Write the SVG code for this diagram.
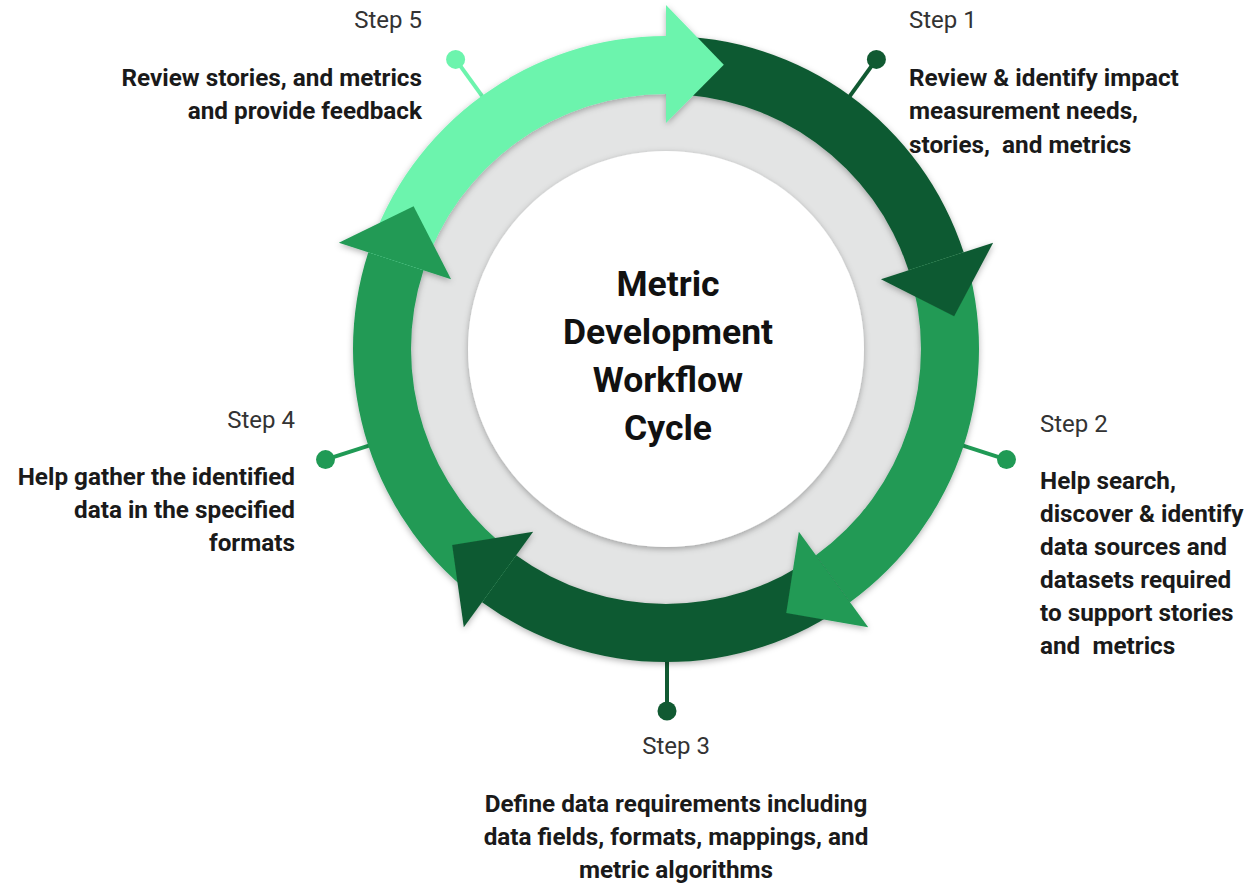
<svg xmlns="http://www.w3.org/2000/svg" width="1255" height="883" viewBox="0 0 1255 883">
  <style>
    .lbl { font-family: Roboto, "Liberation Sans", sans-serif; font-size: 24px; fill: #333333; }
    .body { font-family: Roboto, "Liberation Sans", sans-serif; font-size: 24.3px; font-weight: 700; fill: #1a1a1a; }
    .title { font-family: Roboto, "Liberation Sans", sans-serif; font-size: 35.5px; font-weight: 700; fill: #111111; text-anchor: middle; }
    .dark { fill: #115a32; }
    .mid { fill: #209a55; }
    .light { fill: #6cf4ad; }
    .pin-dark { stroke: #115a32; stroke-width: 4; }
    .pin-mid { stroke: #209a55; stroke-width: 4; }
    .pin-light { stroke: #6cf4ad; stroke-width: 4; }
  </style>
  <defs>
    <filter id="shadow" x="-20%" y="-20%" width="140%" height="140%">
      <feDropShadow dx="0" dy="2" stdDeviation="3" flood-color="#000" flood-opacity="0.3"/>
    </filter>
  </defs>
  <rect width="1255" height="883" fill="#ffffff"/>

  <g id="background">
    <circle cx="666" cy="349" r="256" fill="#e3e4e4"/>
    <circle cx="666" cy="349" r="198" fill="#ffffff" filter="url(#shadow)"/>
  </g>

  <g id="step5">
    <line class="pin-light" x1="486.7" y1="102.3" x2="455.6" y2="59.4"/>
    <circle class="light" cx="455.6" cy="59.4" r="9.5"/>
    <text class="lbl" x="422" y="28" text-anchor="end">Step 5</text>
    <text class="body" text-anchor="end"><tspan x="422" y="86">Review stories, and metrics</tspan><tspan x="422" y="119">and provide feedback</tspan></text>
  </g>

  <g id="step1">
    <line class="pin-dark" x1="845.3" y1="102.3" x2="876.4" y2="59.4"/>
    <circle class="dark" cx="876.4" cy="59.4" r="9.5"/>
    <text class="lbl" x="909" y="28">Step 1</text>
    <text class="body"><tspan x="909" y="86">Review &amp; identify impact</tspan><tspan x="909" y="119">measurement needs,</tspan><tspan x="909" y="153" xml:space="preserve">stories,  and metrics</tspan></text>
  </g>

  <g id="step2">
    <line class="pin-mid" x1="956.1" y1="443.3" x2="1006.5" y2="459.6"/>
    <circle class="mid" cx="1006.5" cy="459.6" r="9.5"/>
    <text class="lbl" x="1040" y="432">Step 2</text>
    <text class="body"><tspan x="1040" y="489">Help search,</tspan><tspan x="1040" y="522">discover &amp; identify</tspan><tspan x="1040" y="555">data sources and</tspan><tspan x="1040" y="588">datasets required</tspan><tspan x="1040" y="621">to support stories</tspan><tspan x="1040" y="654" xml:space="preserve">and  metrics</tspan></text>
  </g>

  <g id="step3">
    <line class="pin-dark" x1="667" y1="654" x2="667" y2="711"/>
    <circle class="dark" cx="667" cy="711" r="9.5"/>
    <text class="lbl" x="676" y="754" text-anchor="middle">Step 3</text>
    <text class="body" text-anchor="middle"><tspan x="676" y="812">Define data requirements including</tspan><tspan x="676" y="845">data fields, formats, mappings, and</tspan><tspan x="676" y="878">metric algorithms</tspan></text>
  </g>

  <g id="step4">
    <line class="pin-mid" x1="375.9" y1="443.3" x2="325.5" y2="459.6"/>
    <circle class="mid" cx="325.5" cy="459.6" r="9.5"/>
    <text class="lbl" x="295" y="428" text-anchor="end">Step 4</text>
    <text class="body" text-anchor="end"><tspan x="295" y="485">Help gather the identified</tspan><tspan x="295" y="518">data in the specified</tspan><tspan x="295" y="551">formats</tspan></text>
  </g>

  <g id="connectors" filter="url(#shadow)">
    <path class="dark" d="M666 36 A313 313 0 0 1 963.68 252.28 L908.52 270.2 A255 255 0 0 0 666 94 Z"/>
    <path class="mid" d="M963.68 252.28 A313 313 0 0 1 849.98 602.22 L815.89 555.3 A255 255 0 0 0 908.52 270.2 Z"/>
    <path class="dark" d="M849.98 602.22 A313 313 0 0 1 482.02 602.22 L516.11 555.3 A255 255 0 0 0 815.89 555.3 Z"/>
    <path class="mid" d="M482.02 602.22 A313 313 0 0 1 368.32 252.28 L423.48 270.2 A255 255 0 0 0 516.11 555.3 Z"/>
    <path class="light" d="M368.32 252.28 A313 313 0 0 1 666 36 L666 94 A255 255 0 0 0 423.48 270.2 Z"/>
    <polygon class="dark" points="880.94,279.16 993.16,242.7 954.14,316.17"/>
    <polygon class="mid" points="798.84,531.84 868.2,627.3 786.26,612.89"/>
    <polygon class="dark" points="533.16,531.84 463.8,627.3 452.19,544.92"/>
    <polygon class="mid" points="451.06,279.16 338.84,242.7 413.6,206.2"/>
    <polygon class="light" points="666,123 666,5 723.82,64.82"/>
  </g>

  <g id="center">
    <text class="title"><tspan x="668" y="296">Metric</tspan><tspan x="668" y="344">Development</tspan><tspan x="668" y="392">Workflow</tspan><tspan x="668" y="440">Cycle</tspan></text>
  </g>
</svg>
